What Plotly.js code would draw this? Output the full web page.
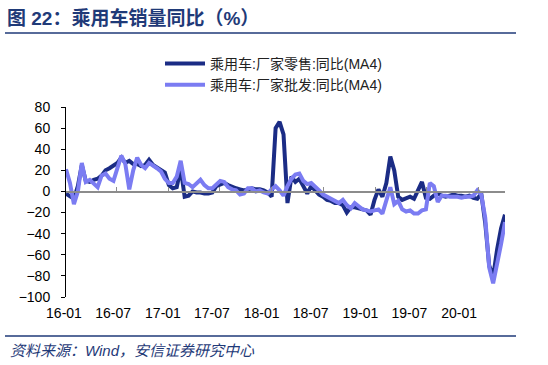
<!DOCTYPE html>
<html>
<head>
<meta charset="utf-8">
<script src="https://cdn.plot.ly/plotly-3.0.1.min.js"></script>
<style>html,body{margin:0;padding:0;background:#fff;}#chart{width:548px;height:365px;}</style>
</head>
<body>
<div id="chart"></div>
<script>
// ---- data (biweekly readings, starting 2016-01-03) ----
const startDate = '2016-01-03';
const stepDays = 14;
const seriesNames = ['乘用车:厂家零售:同比(MA4)', '乘用车:厂家批发:同比(MA4)'];
const retailYoY = [
  -2, -4, -7, 5, 25, 10, 9, 11, 12, 15,
  20, 22, 25, 27, 32, 27, 29, 26, 26, 24,
  25, 30, 25, 23, 21, 18, 6, 3, 4, 22,
  -5, -4, 0, -1, -1, -2, -2, -1, 5, 7,
  8, 6, 4, 3, 2, 1, 2, 3, 2, 2,
  1, -1, -5, 60, 66, 54, -11, 14, 9, 12,
  5, -2, 5, 1, -3, -5, -8, -9, -11, -11,
  -13, -20, -15, -15, -16, -17, -18, -22, -8, 2,
  -5, 8, 33, 20, -5, -8, -6, -5, -7, 2,
  9, -6, -7, -4, -2, -4, -5, -4, -3, -4,
  -4, -5, -4, -6, -7, -2, -30, -70, -81, -55,
  -35, -22
];
const wholesaleYoY = [
  21, 8, -12, 0, 27, 9, 11, 8, 4, 15,
  17, 12, 10, 22, 34, 26, 2, 20, 32, 25,
  22, 27, 25, 22, 19, 12, 8, 8, 14, 29,
  8, 7, 4, 7, 11, 6, 3, 3, 6, 10,
  9, 4, 2, 1, -3, -2, 3, 3, 0, 1,
  -1, -2, 2, 5, 1, -4, 5, 12, 16, 17,
  10, 7, 8, 5, 1, -3, -5, -7, -9, -11,
  -8, -13, -16, -11, -14, -17, -18, -19, -18, -17,
  -21, -8, 4, -12, -9, -17, -19, -18, -21, -21,
  -18, -17, 8, 5, -10, -4, -4, -5, -5, -5,
  -6, -5, -5, -4, 1, -3, -25, -72, -87, -70,
  -50, -29
];
const tickLabels = ['16-01','16-07','17-01','17-07','18-01','18-07','19-01','19-07','20-01'];
const tickDates = ['2016-01-01','2016-07-01','2017-01-01','2017-07-01','2018-01-01','2018-07-01','2019-01-01','2019-07-01','2020-01-01'];

// build dates
function addDays(s, n) {
  const d = new Date(s + 'T00:00:00Z');
  d.setUTCDate(d.getUTCDate() + n);
  return d.toISOString().slice(0, 10);
}
const dates = retailYoY.map((_, i) => addDays(startDate, i * stepDays));

const navy = '#1B2C85';
const lilac = '#7B7CF2';
const blueText = '#1F3A78';
const cjk = 'Liberation Sans, Arial, Noto Sans CJK SC, sans-serif';

const traces = [
  {x: dates, y: retailYoY, name: seriesNames[0], type: 'scatter', mode: 'lines',
   line: {color: navy, width: 4}, xaxis: 'x', yaxis: 'y'},
  {x: dates, y: wholesaleYoY, name: seriesNames[1], type: 'scatter', mode: 'lines',
   line: {color: lilac, width: 4}, xaxis: 'x', yaxis: 'y'},
  // empty carrier so the label axis is drawn (no marks)
  {x: tickDates, y: tickDates.map(() => null), type: 'scatter', mode: 'lines',
   xaxis: 'x2', yaxis: 'y', showlegend: false, hoverinfo: 'skip'}
];

const yMin = -100, yMax = 80;
const zeroPos = (0 - yMin) / (yMax - yMin);

const layout = {
  width: 548, height: 365,
  margin: {l: 66, r: 43, t: 107, b: 68},
  paper_bgcolor: '#fff', plot_bgcolor: '#fff',
  font: {family: cjk, size: 13, color: '#000'},
  title: {
    text: '<b>图 22：乘用车销量同比（%）</b>',
    font: {family: 'Liberation Sans, Arial, Noto Sans CJK SC, sans-serif', size: 19, color: blueText},
    x: 7 / 548, xanchor: 'left', xref: 'container',
    y: 1 - 18 / 365, yanchor: 'middle', yref: 'container'
  },
  showlegend: true,
  legend: {
    x: (160 - 66) / 439, xanchor: 'left', y: (297 - 48) / 190, yanchor: 'top',
    font: {size: 14, color: '#222', family: cjk},
    itemwidth: 40, bgcolor: 'rgba(0,0,0,0)', tracegroupgap: 0
  },
  xaxis: {
    type: 'date',
    range: [dates[0], dates[dates.length - 1]],
    anchor: 'free', position: zeroPos, side: 'top',
    showline: true, linecolor: '#8c8c8c', linewidth: 1.5,
    showgrid: false, zeroline: false,
    ticks: 'outside', ticklen: 4, tickcolor: '#8c8c8c', tickwidth: 1,
    tickmode: 'array', tickvals: tickDates, showticklabels: false
  },
  xaxis2: {
    type: 'date', overlaying: 'x', side: 'bottom', anchor: 'y',
    range: ['2015-12-21', '2020-05-31'],
    showline: false, showgrid: false, zeroline: false, ticks: '',
    tickmode: 'array', tickvals: tickDates, ticktext: tickLabels,
    tickfont: {size: 14, family: 'Liberation Sans, Arial, sans-serif', color: '#000'},
    ticklabelstandoff: 6, ticklabelshift: -5
  },
  yaxis: {
    range: [yMin, yMax], tickmode: 'linear', tick0: 0, dtick: 20,
    showline: true, linecolor: '#000', linewidth: 1,
    ticks: 'outside', ticklen: 4, tickcolor: '#000',
    showgrid: false, zeroline: false,
    tickfont: {size: 14, family: 'Liberation Sans, Arial, sans-serif', color: '#000'},
    ticklabelstandoff: 8
  },
  shapes: [
    {type: 'line', xref: 'paper', yref: 'paper', x0: (5 - 66) / 439, x1: (516 - 66) / 439,
     y0: (297 - 33) / 190, y1: (297 - 33) / 190, line: {color: blueText, width: 1.5}},
    {type: 'line', xref: 'paper', yref: 'paper', x0: (5 - 66) / 439, x1: (516 - 66) / 439,
     y0: (297 - 336) / 190, y1: (297 - 336) / 190, line: {color: blueText, width: 1.5}}
  ],
  annotations: [
    {text: '<i>资料来源：Wind，安信证券研究中心</i>', xref: 'paper', yref: 'paper',
     x: (8 - 66) / 439, xanchor: 'left', y: (297 - 350) / 190, yanchor: 'middle',
     showarrow: false, font: {size: 15, color: blueText, family: cjk}}
  ]
};

Plotly.newPlot('chart', traces, layout, {displayModeBar: false, staticPlot: true});
</script>
</body>
</html>
